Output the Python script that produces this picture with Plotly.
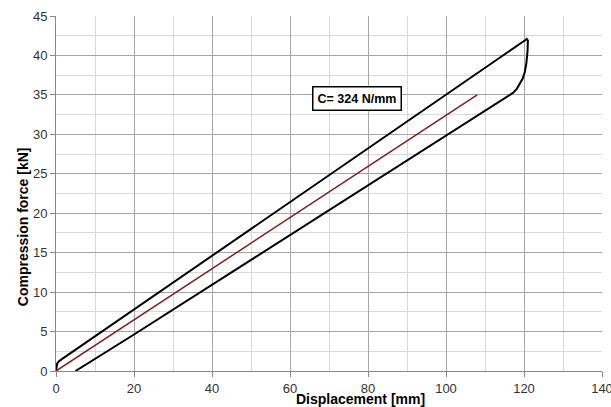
import plotly.graph_objects as go

# Hysteresis loop (loading then unloading)
loop_x = [0, 0.1, 0.3, 0.7, 1.5, 120.2, 120.7, 121.0, 120.9, 120.6, 120.2, 119.7, 119.0, 118.2, 117.3, 116.4,
          19.8, 13.0, 10.0, 8.0, 6.5, 5.0]
loop_y = [0, 0.6, 0.95, 1.2, 1.5, 41.9, 42.1, 41.9, 40.5, 39.0, 37.9, 37.1, 36.4, 35.8, 35.3, 35.0,
          4.56, 2.5, 1.6, 1.0, 0.45, 0.0]

# Stiffness line
stiff_x = [0, 108]
stiff_y = [0, 35]

label_text = "C= 324 N/mm"
label_pos = (77.2, 34.5)

font = "Liberation Sans"

fig = go.Figure()
fig.add_trace(go.Scatter(x=loop_x, y=loop_y, mode="lines",
                         line=dict(color="black", width=2),
                         showlegend=False))
fig.add_trace(go.Scatter(x=stiff_x, y=stiff_y, mode="lines",
                         line=dict(color="#7f1f1f", width=1.5), showlegend=False))

fig.add_annotation(x=label_pos[0], y=label_pos[1], text="<b>" + label_text + "</b>",
                   showarrow=False, bordercolor="black", borderwidth=1.5,
                   bgcolor="white", borderpad=4,
                   font=dict(family=font, size=12.5, color="black"))

fig.add_annotation(xref="paper", yref="paper", x=0.557, y=0, yshift=-38, yanchor="bottom",
                   text="<b>Displacement [mm]</b>", showarrow=False,
                   font=dict(family=font, size=14, color="black"))
fig.add_annotation(xref="paper", yref="paper", x=0, xshift=-43, y=0.405, textangle=-90,
                   text="<b>Compression force [kN]</b>", showarrow=False,
                   font=dict(family=font, size=14, color="black"))

fig.update_layout(
    width=611, height=407,
    margin=dict(l=56, r=9, t=16, b=36),
    paper_bgcolor="white", plot_bgcolor="white",
    font=dict(family=font, size=13, color="#333"),
)
fig.update_xaxes(range=[0, 140], dtick=20, tick0=0, showgrid=True, gridcolor="#a6a6a6",
                 gridwidth=1, ticks="outside", ticklen=5, tickcolor="#888",
                 showline=True, linecolor="#888", mirror=False, zeroline=False,
                 minor=dict(dtick=10, showgrid=True, gridcolor="#d9d9d9", gridwidth=1),
                 tickfont=dict(size=13, color="#333"), automargin=False,
                 ticklabeloverflow="allow")
fig.update_yaxes(range=[0, 45], dtick=5, tick0=0, showgrid=True, gridcolor="#a6a6a6",
                 gridwidth=1, ticks="outside", ticklen=5, tickcolor="#888",
                 showline=True, linecolor="#888", zeroline=False,
                 minor=dict(dtick=2.5, showgrid=True, gridcolor="#d9d9d9", gridwidth=1),
                 tickfont=dict(size=13, color="#333"), automargin=False)

fig.write_html("out.html", config={"displayModeBar": False},
               post_script="document.body.style.margin='0';")
